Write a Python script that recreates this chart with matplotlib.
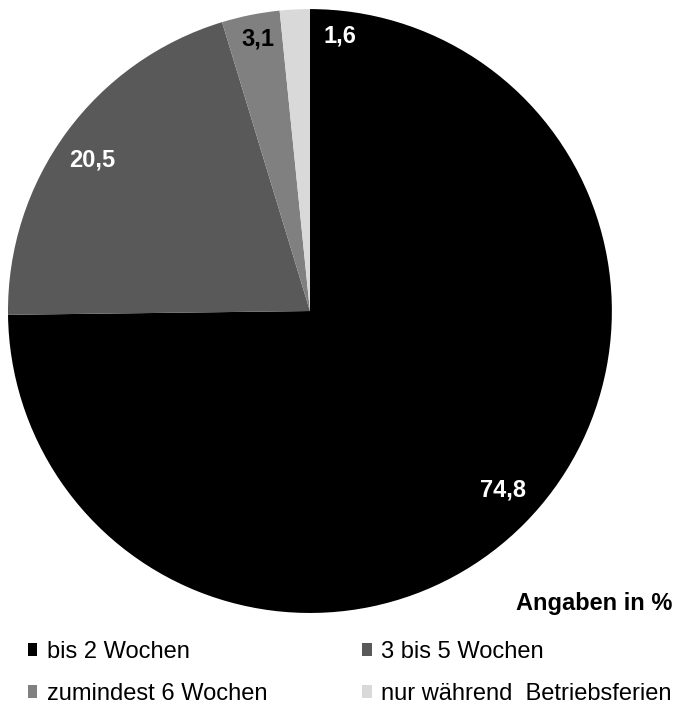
"""
Pie chart: Dauer des Urlaubs (Angaben in %).
"""

import numpy as np
import matplotlib.pyplot as plt
from matplotlib.patches import Patch

plt.rcParams["font.family"] = ["Liberation Sans", "DejaVu Sans"]

# -- Data ----------------------------------------------------------------------
categories = ["bis 2 Wochen", "3 bis 5 Wochen", "zumindest 6 Wochen",
              "nur während  Betriebsferien"]
values = [74.8, 20.5, 3.1, 1.6]
value_labels = ["74,8", "20,5", "3,1", "1,6"]
colors = ["#000000", "#595959", "#808080", "#d9d9d9"]
label_colors = ["white", "white", "black", "white"]

# -- Plot ----------------------------------------------------------------------
fig = plt.figure(figsize=(6.77, 7.06), dpi=100)
ax = fig.add_axes([0.0118, 0.1317, 0.892, 0.8555])

wedges, _ = ax.pie(values, colors=colors, startangle=90, counterclock=False,
                   wedgeprops=dict(linewidth=0))
ax.set_xlim(-1, 1)
ax.set_ylim(-1, 1)
ax.set_aspect("equal")

# label positions (angle in degrees, radius fraction) tuned to the reference
label_pos = [(-42.9, 0.871), (145.3, 0.878), (100.9, 0.917), (83.8, 0.915)]
for (ang, r), txt, c in zip(label_pos, value_labels, label_colors):
    a = np.deg2rad(ang)
    ax.text(r * np.cos(a), r * np.sin(a), txt, ha="center", va="center",
            fontsize=17, fontweight="bold", color=c)

fig.text(0.993, 0.136, "Angaben in %", ha="right", va="baseline",
         fontsize=17, fontweight="bold")

# legend filled row by row, as in the reference
order = [0, 2, 1, 3]
handles = [Patch(facecolor=colors[i], edgecolor="none") for i in order]
labels = [categories[i] for i in order]
fig.legend(handles, labels, ncol=2, loc="upper left",
           bbox_to_anchor=(0.041, 0.092), frameon=False, fontsize=17,
           handlelength=0.4, handleheight=0.5, handletextpad=0.42,
           columnspacing=4.0, labelspacing=0.85, borderpad=0, borderaxespad=0)

fig.savefig("out.png", dpi=100, facecolor="white")
plt.close(fig)
